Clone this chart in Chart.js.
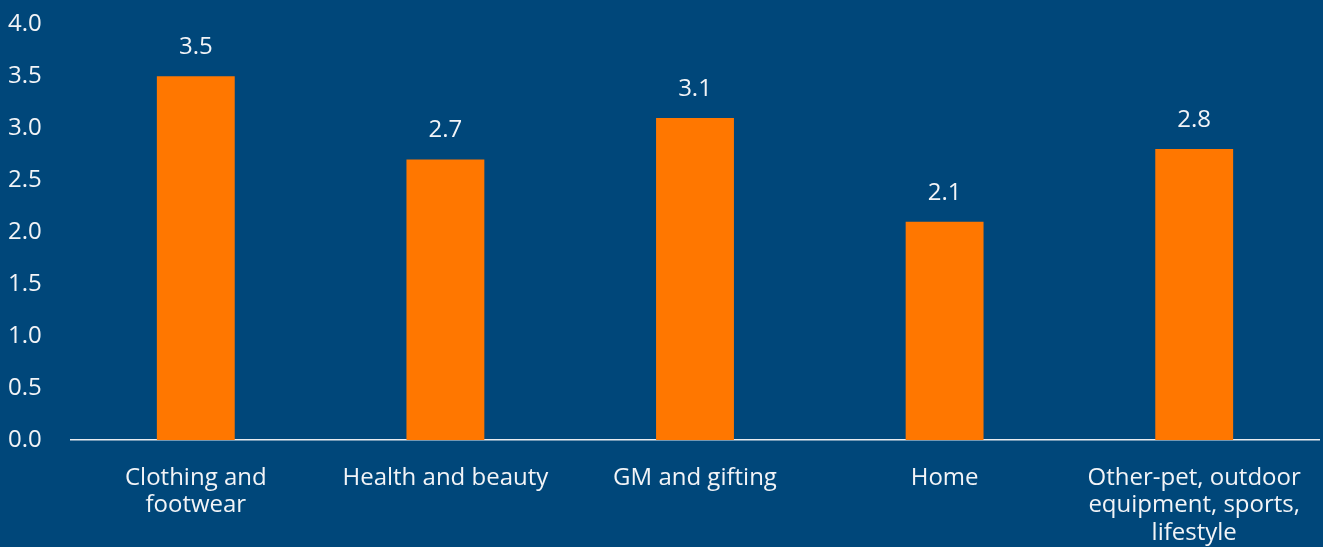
<!DOCTYPE html>
<html>
<head>
<meta charset="utf-8">
<script src="https://cdn.jsdelivr.net/npm/chart.js@4/dist/chart.umd.min.js"></script>
<style>
    html, body { margin: 0; padding: 0; background: #00477a; }
    #wrap { width: 1323px; height: 547px; }
</style>
</head>
<body>
<div id="wrap"><canvas id="graph_cont"></canvas></div>
<script>
const categories = [
    ['Clothing and', 'footwear'],
    'Health and beauty',
    'GM and gifting',
    'Home',
    ['Other-pet, outdoor', 'equipment, sports,', 'lifestyle']
];
const values = [3.5, 2.7, 3.1, 2.1, 2.8];
const yTicks = [0, 0.5, 1, 1.5, 2, 2.5, 3, 3.5, 4];

const textColor = '#f2f4f7';
const fontFamily = '"Open Sans", Lato, sans-serif';

// value printed above each bar
const barLabels = {
    id: 'barLabels',
    afterDatasetsDraw(chart) {
        const ctx = chart.ctx;
        const meta = chart.getDatasetMeta(0);
        ctx.save();
        ctx.fillStyle = textColor;
        ctx.font = '24px ' + fontFamily;
        ctx.textAlign = 'center';
        ctx.textBaseline = 'middle';
        meta.data.forEach((bar, i) => {
            ctx.fillText(values[i].toFixed(1), bar.x, bar.y - 29);
        });
        ctx.restore();
    }
};

let myChart = new Chart(document.getElementById('graph_cont'), {
    type: 'bar',
    data: {
        labels: categories,
        datasets: [{
            data: values,
            backgroundColor: '#ff7700',
            borderWidth: 0,
            categoryPercentage: 1,
            barPercentage: 0.312
        }]
    },
    options: {
        responsive: true,
        maintainAspectRatio: false,
        animation: false,
        layout: { padding: { left: 8, right: 4, top: 6, bottom: 0 } },
        plugins: {
            legend: { display: false },
            tooltip: { enabled: false }
        },
        scales: {
            x: {
                grid: { display: false },
                border: { display: true, color: '#e8ecf0', width: 1.5 },
                afterFit: (axis) => { axis.height = 107; },
                ticks: {
                    color: textColor,
                    font: { family: fontFamily, size: 24, lineHeight: 1.15 },
                    padding: 16,
                    maxRotation: 0,
                    autoSkip: false
                }
            },
            y: {
                min: 0,
                max: 4,
                afterBuildTicks: (axis) => { axis.ticks = yTicks.map(v => ({ value: v })); },
                afterFit: (axis) => { axis.width = 63; },
                grid: { display: false },
                border: { display: false },
                ticks: {
                    color: textColor,
                    font: { family: fontFamily, size: 24 },
                    crossAlign: 'far',
                    padding: 10,
                    callback: (v) => Number(v).toFixed(1)
                }
            }
        }
    },
    plugins: [barLabels]
});
</script>
</body>
</html>
